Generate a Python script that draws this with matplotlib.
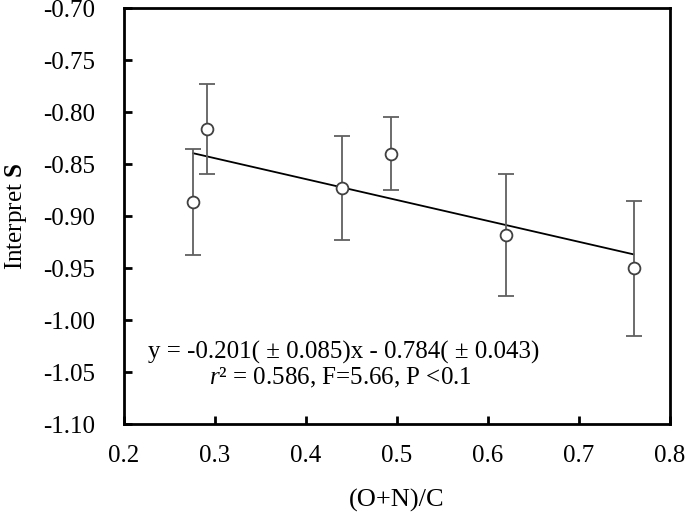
import numpy as np
import matplotlib
matplotlib.use("Agg")
import matplotlib.pyplot as plt

plt.rcParams['font.family'] = ['Liberation Serif', 'DejaVu Serif']
plt.rcParams['mathtext.fontset'] = 'custom'
plt.rcParams['mathtext.rm'] = 'Liberation Serif'
plt.rcParams['mathtext.it'] = 'Liberation Serif:italic'
plt.rcParams['mathtext.bf'] = 'Liberation Serif:bold'

# data
ratio_onc = [0.276, 0.291, 0.440, 0.494, 0.620, 0.760]
interpret_s = [-0.886, -0.816, -0.873, -0.840, -0.918, -0.950]
s_err = [0.051, 0.043, 0.050, 0.035, 0.059, 0.065]

slope = -0.201
intercept = -0.784
eq_text = "y = -0.201( \u00b1 0.085)x - 0.784( \u00b1 0.043)"
stat_text = r"$r$" + "\u00b2 = 0.586, F=5.66, P <0.1"

xticks = [0.2, 0.3, 0.4, 0.5, 0.6, 0.7, 0.8]
yticks = [-0.70, -0.75, -0.80, -0.85, -0.90, -0.95, -1.00, -1.05, -1.10]

fig = plt.figure(figsize=(6.85, 5.14), dpi=100)
ax = fig.add_axes([0.181, 0.175, 0.797, 0.809])

ax.errorbar(ratio_onc, interpret_s, yerr=s_err, fmt='o', mfc='white',
            mec='#404040', ms=8.5, mew=1.3, ecolor='#606060', elinewidth=1.3,
            capsize=5.5, capthick=1.3, zorder=3)

xs = np.array([min(ratio_onc), max(ratio_onc)])
ax.plot(xs, slope * xs + intercept, color='black', lw=1.3, zorder=2)

ax.set_xlim(0.2, 0.8)
ax.set_ylim(-1.10, -0.70)
ax.set_xticks(xticks)
ax.set_xticklabels(["%.1f" % v for v in xticks])
ax.set_yticks(yticks)
ax.set_yticklabels(["%.2f" % v for v in yticks])
ax.tick_params(direction='in', length=6, width=2, labelsize=18)
ax.tick_params(axis='x', top=False, pad=15)
ax.tick_params(axis='y', right=False, pad=21)
for sp in ax.spines.values():
    sp.set_linewidth(2)

ax.set_xlabel("(O+N)/C", fontsize=19, labelpad=16)
ax.set_ylabel(r"Interpret $\mathbf{S}$", fontsize=18, labelpad=10)

ax.text(0.402, 0.171, eq_text, transform=ax.transAxes, ha='center',
        va='center', fontsize=18)
ax.text(0.397, 0.111, stat_text, transform=ax.transAxes, ha='center',
        va='center', fontsize=18)

fig.savefig("out.png", dpi=100)
